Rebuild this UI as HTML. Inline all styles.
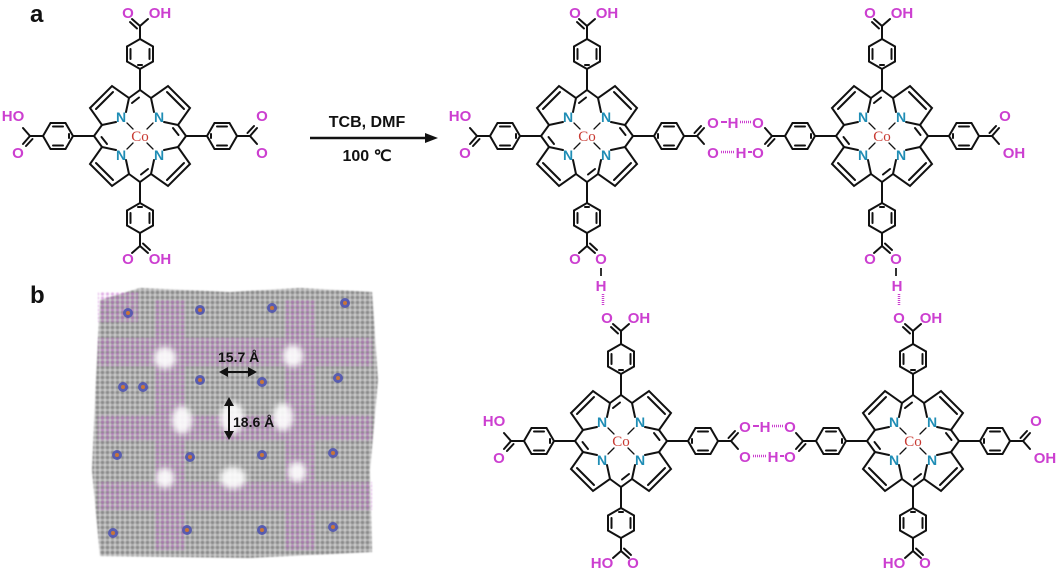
<!DOCTYPE html>
<html><head><meta charset="utf-8"><style>
html,body{margin:0;padding:0;background:#fff;}
svg{display:block;}
.o{font:bold 15px "Liberation Sans",sans-serif;fill:#cc3fd0;text-anchor:middle;}
.n{font:bold 14px "Liberation Sans",sans-serif;fill:#1f8db5;text-anchor:middle;}
.co{font:15px "Liberation Serif",serif;fill:#c83a32;text-anchor:middle;}
.t{font:bold 16px "Liberation Sans",sans-serif;fill:#111;text-anchor:middle;}
.lab{font:bold 24px "Liberation Sans",sans-serif;fill:#111;}
</style></head><body>
<svg width="1056" height="568" viewBox="0 0 1056 568" xmlns="http://www.w3.org/2000/svg">
<defs>
<g id="q" stroke="#111" stroke-width="2" fill="none" stroke-linecap="round">
  <polyline points="-14,-24 -11,-38 -28,-50 -50,-28 -38,-11 -24,-14"/>
  <line x1="-27" y1="-44" x2="-44" y2="-27"/>
  <polyline points="-11,-38 0,-46 11,-38"/>
  <line x1="-8" y1="-33" x2="-1" y2="-38.5"/>
  <line x1="-13" y1="-13" x2="-7" y2="-7" stroke-width="1.3"/>
  <line x1="0" y1="-46" x2="0" y2="-67"/>
  <polygon points="0,-97 13,-89.5 13,-74.5 0,-67 -13,-74.5 -13,-89.5"/>
  <line x1="-9.5" y1="-87" x2="-9.5" y2="-77"/>
  <line x1="9.5" y1="-87" x2="9.5" y2="-77"/>
  <line x1="-2" y1="-71" x2="2" y2="-71"/>
  <line x1="0" y1="-97" x2="0" y2="-110"/>
  <line x1="0" y1="-110" x2="-8" y2="-117"/>
  <line x1="-3" y1="-107.5" x2="-10" y2="-114"/>
  <line x1="0" y1="-110" x2="8" y2="-117"/>
</g>
<g id="por">
  <use href="#q"/>
  <use href="#q" transform="rotate(90)"/>
  <use href="#q" transform="rotate(180)"/>
  <use href="#q" transform="rotate(270)"/>
</g>
<g id="lbl">
  <circle cx="-19" cy="-19" r="6" fill="#fff"/><circle cx="19" cy="-19" r="6" fill="#fff"/><circle cx="-19" cy="19" r="6" fill="#fff"/><circle cx="19" cy="19" r="6" fill="#fff"/><circle cx="0" cy="0" r="7" fill="#fff"/>
</g>
<pattern id="gp" width="5" height="5" patternUnits="userSpaceOnUse">
  <rect width="5" height="5" fill="#cfcfcf"/>
  <circle cx="2.5" cy="2.5" r="2.1" fill="#8a8a8a"/>
</pattern>
<pattern id="pp" width="5" height="4" patternUnits="userSpaceOnUse">
  <circle cx="2.5" cy="2" r="1.6" fill="#c567cf"/>
</pattern>
<filter id="bl"><feGaussianBlur stdDeviation="3"/></filter>
<filter id="bl2"><feGaussianBlur stdDeviation="0.8"/></filter>
</defs>

<text class="lab" x="30" y="22">a</text>
<text class="lab" x="30" y="303">b</text>

<line x1="310" y1="138" x2="428" y2="138" stroke="#111" stroke-width="2.5"/>
<polygon points="438,138 425,133 425,143" fill="#111"/>
<text class="t" x="367" y="127">TCB, DMF</text>
<text class="t" x="367" y="161">100 ℃</text>

<g transform="translate(140,136)">
  <use href="#por"/><use href="#lbl"/>
  <text class="n" x="-19" y="-14">N</text><text class="n" x="19" y="-14">N</text>
  <text class="n" x="-19" y="24">N</text><text class="n" x="19" y="24">N</text>
  <text class="co" x="0" y="5">Co</text>
  <text class="o" x="-12" y="-118">O</text><text class="o" x="20" y="-118">OH</text>
  <text class="o" x="-12" y="128">O</text><text class="o" x="20" y="128">OH</text>
  <text class="o" x="-127" y="-15">HO</text><text class="o" x="-122" y="22">O</text>
  <text class="o" x="122" y="-15">O</text><text class="o" x="122" y="22">O</text>
</g>

<g transform="translate(587,136)">
  <use href="#por"/><use href="#lbl"/>
  <text class="n" x="-19" y="-14">N</text><text class="n" x="19" y="-14">N</text>
  <text class="n" x="-19" y="24">N</text><text class="n" x="19" y="24">N</text>
  <text class="co" x="0" y="5">Co</text>
  <text class="o" x="-12" y="-118">O</text><text class="o" x="20" y="-118">OH</text>
  <text class="o" x="-12" y="128">O</text><text class="o" x="14" y="128">O</text>
  <text class="o" x="-127" y="-15">HO</text><text class="o" x="-122" y="22">O</text>
</g>
<text class="o" x="713" y="128">O</text><line x1="721" y1="122" x2="727" y2="122" stroke="#cc3fd0" stroke-width="2"/>
<text class="o" x="733" y="128">H</text><line x1="740" y1="122" x2="752" y2="122" stroke="#cc3fd0" stroke-width="2.5" stroke-dasharray="1,1"/>
<text class="o" x="758" y="128">O</text>
<text class="o" x="713" y="158">O</text><line x1="721" y1="152" x2="735" y2="152" stroke="#cc3fd0" stroke-width="2.5" stroke-dasharray="1,1"/>
<text class="o" x="741" y="158">H</text><line x1="748" y1="152" x2="752" y2="152" stroke="#cc3fd0" stroke-width="2"/>
<text class="o" x="758" y="158">O</text>

<g transform="translate(882,136)">
  <use href="#por"/><use href="#lbl"/>
  <text class="n" x="-19" y="-14">N</text><text class="n" x="19" y="-14">N</text>
  <text class="n" x="-19" y="24">N</text><text class="n" x="19" y="24">N</text>
  <text class="co" x="0" y="5">Co</text>
  <text class="o" x="-12" y="-118">O</text><text class="o" x="20" y="-118">OH</text>
  <text class="o" x="-12" y="128">O</text><text class="o" x="14" y="128">O</text>
  <text class="o" x="123" y="-15">O</text><text class="o" x="132" y="22">OH</text>
</g>

<line x1="601" y1="268" x2="601" y2="276" stroke="#333" stroke-width="2"/>
<text class="o" x="601" y="291">H</text>
<line x1="603" y1="294" x2="603" y2="306" stroke="#cc3fd0" stroke-width="2.5" stroke-dasharray="1,1"/>
<line x1="896" y1="268" x2="896" y2="276" stroke="#333" stroke-width="2"/>
<text class="o" x="897" y="291">H</text>
<line x1="899" y1="294" x2="899" y2="306" stroke="#cc3fd0" stroke-width="2.5" stroke-dasharray="1,1"/>

<g transform="translate(621,441)">
  <use href="#por"/><use href="#lbl"/>
  <text class="n" x="-19" y="-14">N</text><text class="n" x="19" y="-14">N</text>
  <text class="n" x="-19" y="24">N</text><text class="n" x="19" y="24">N</text>
  <text class="co" x="0" y="5">Co</text>
  <text class="o" x="-14" y="-118">O</text><text class="o" x="18" y="-118">OH</text>
  <text class="o" x="-19" y="127">HO</text><text class="o" x="12" y="127">O</text>
  <text class="o" x="-127" y="-15">HO</text><text class="o" x="-122" y="22">O</text>
</g>
<text class="o" x="745" y="432">O</text><line x1="753" y1="426" x2="759" y2="426" stroke="#cc3fd0" stroke-width="2"/>
<text class="o" x="765" y="432">H</text><line x1="772" y1="426" x2="784" y2="426" stroke="#cc3fd0" stroke-width="2.5" stroke-dasharray="1,1"/>
<text class="o" x="790" y="432">O</text>
<text class="o" x="745" y="462">O</text><line x1="753" y1="456" x2="767" y2="456" stroke="#cc3fd0" stroke-width="2.5" stroke-dasharray="1,1"/>
<text class="o" x="773" y="462">H</text><line x1="780" y1="456" x2="784" y2="456" stroke="#cc3fd0" stroke-width="2"/>
<text class="o" x="790" y="462">O</text>

<g transform="translate(913,441)">
  <use href="#por"/><use href="#lbl"/>
  <text class="n" x="-19" y="-14">N</text><text class="n" x="19" y="-14">N</text>
  <text class="n" x="-19" y="24">N</text><text class="n" x="19" y="24">N</text>
  <text class="co" x="0" y="5">Co</text>
  <text class="o" x="-14" y="-118">O</text><text class="o" x="18" y="-118">OH</text>
  <text class="o" x="-19" y="127">HO</text><text class="o" x="12" y="127">O</text>
  <text class="o" x="123" y="-15">O</text><text class="o" x="132" y="22">OH</text>
</g>

<!-- crystal structure -->
<g>
  <polygon points="100,300 140,288 230,292 300,288 372,292 378,380 370,470 372,552 250,558 100,556 92,470 96,380" fill="url(#gp)" filter="url(#bl2)"/>
  <g opacity="0.55" filter="url(#bl2)">
    <rect x="98" y="338" width="274" height="28" fill="url(#pp)"/>
    <rect x="98" y="415" width="274" height="26" fill="url(#pp)"/>
    <rect x="98" y="482" width="274" height="28" fill="url(#pp)"/>
    <rect x="155" y="300" width="30" height="250" fill="url(#pp)"/>
    <rect x="285" y="300" width="30" height="250" fill="url(#pp)"/>
    <rect x="98" y="292" width="40" height="30" fill="url(#pp)"/>
  </g>
  <g fill="#fff" opacity="0.9" filter="url(#bl)">
    <ellipse cx="165" cy="358" rx="11" ry="11"/>
    <ellipse cx="293" cy="356" rx="10" ry="11"/>
    <ellipse cx="182" cy="420" rx="10" ry="14"/>
    <ellipse cx="283" cy="417" rx="10" ry="14"/>
    <ellipse cx="232" cy="418" rx="12" ry="16"/>
    <ellipse cx="233" cy="478" rx="13" ry="11"/>
    <ellipse cx="165" cy="478" rx="9" ry="10"/>
    <ellipse cx="297" cy="472" rx="9" ry="10"/>
  </g>
  <g fill="#4a4fb0" opacity="0.85">
    <circle cx="128" cy="313" r="5"/><circle cx="200" cy="310" r="5"/><circle cx="272" cy="308" r="5"/><circle cx="345" cy="303" r="5"/>
    <circle cx="123" cy="387" r="5"/><circle cx="143" cy="387" r="5"/><circle cx="200" cy="380" r="5"/><circle cx="262" cy="382" r="5"/><circle cx="338" cy="378" r="5"/>
    <circle cx="117" cy="455" r="5"/><circle cx="190" cy="457" r="5"/><circle cx="262" cy="455" r="5"/><circle cx="333" cy="453" r="5"/>
    <circle cx="113" cy="533" r="5"/><circle cx="187" cy="530" r="5"/><circle cx="262" cy="530" r="5"/><circle cx="333" cy="527" r="5"/>
  </g>
  <g fill="#c8753a">
    <circle cx="128" cy="313" r="2"/><circle cx="200" cy="310" r="2"/><circle cx="272" cy="308" r="2"/><circle cx="345" cy="303" r="2"/>
    <circle cx="123" cy="387" r="2"/><circle cx="143" cy="387" r="2"/><circle cx="200" cy="380" r="2"/><circle cx="262" cy="382" r="2"/><circle cx="338" cy="378" r="2"/>
    <circle cx="117" cy="455" r="2"/><circle cx="190" cy="457" r="2"/><circle cx="262" cy="455" r="2"/><circle cx="333" cy="453" r="2"/>
    <circle cx="113" cy="533" r="2"/><circle cx="187" cy="530" r="2"/><circle cx="262" cy="530" r="2"/><circle cx="333" cy="527" r="2"/>
  </g>
  <text x="218" y="362" style="font:bold 14px 'Liberation Sans',sans-serif;fill:#111">15.7 Å</text>
  <line x1="226" y1="372" x2="250" y2="372" stroke="#111" stroke-width="2"/>
  <polygon points="219,372 228,367 228,377" fill="#111"/>
  <polygon points="257,372 248,367 248,377" fill="#111"/>
  <line x1="229" y1="404" x2="229" y2="433" stroke="#111" stroke-width="2"/>
  <polygon points="229,397 224,406 234,406" fill="#111"/>
  <polygon points="229,440 224,431 234,431" fill="#111"/>
  <text x="233" y="427" style="font:bold 14px 'Liberation Sans',sans-serif;fill:#111">18.6 Å</text>
</g>
</svg>
</body></html>
